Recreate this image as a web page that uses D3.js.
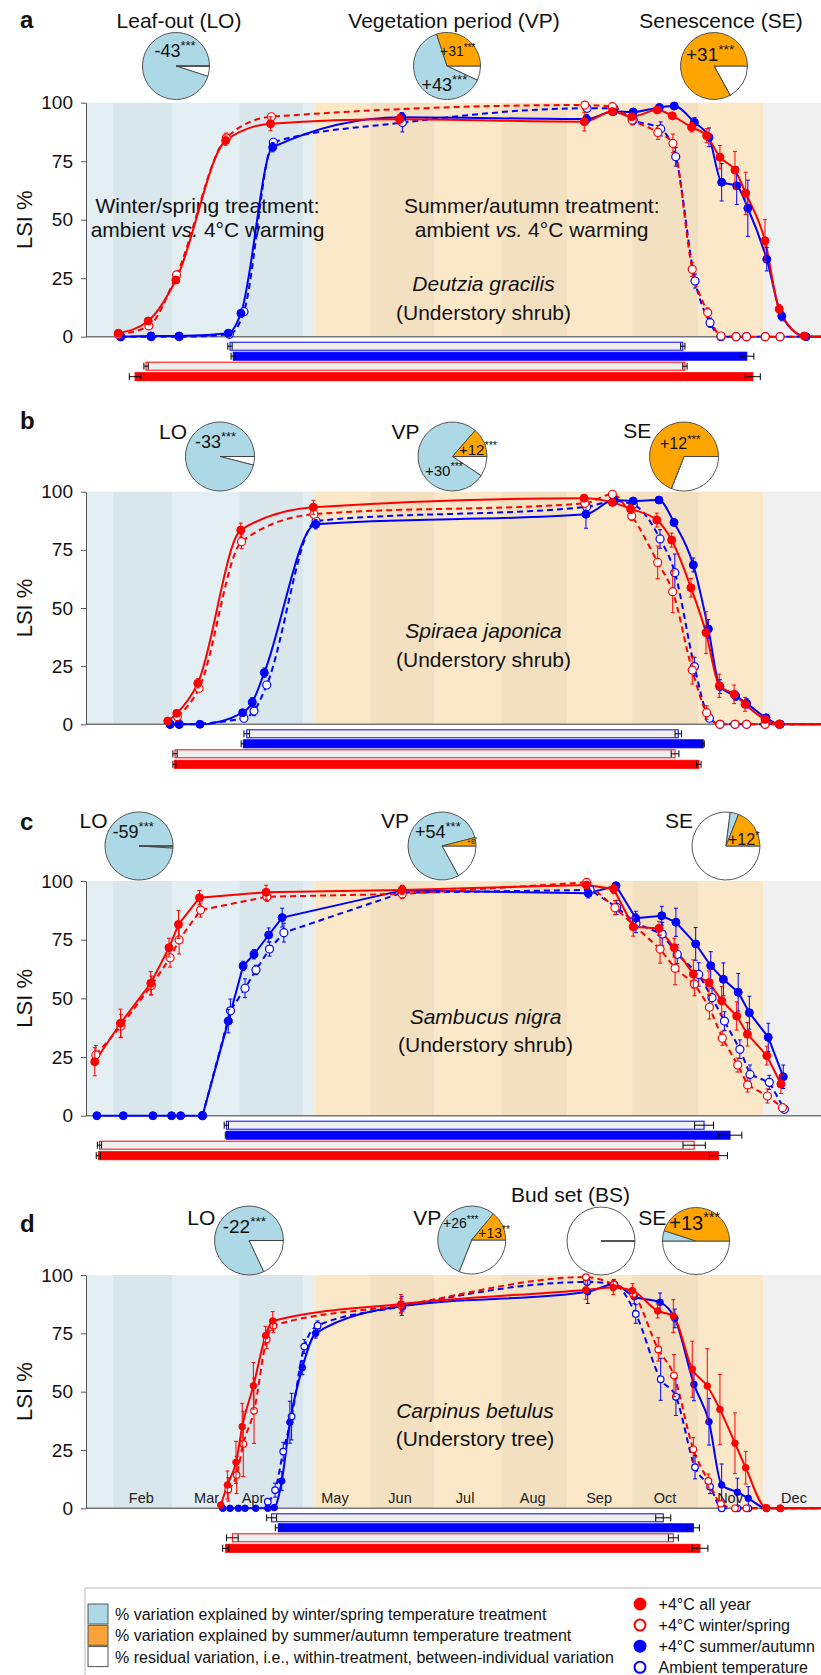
<!DOCTYPE html>
<html>
<head>
<meta charset="utf-8">
<script src="https://cdn.jsdelivr.net/npm/d3@7"></script>
<style>
body { margin: 0; background: #fff; }
svg text { font-family: "Liberation Sans", Arial, Helvetica, sans-serif; fill: #111; }
</style>
</head>
<body>
<svg id="chart" width="821" height="1675"></svg>
<script>
// values: [day of year, LSI %, error]
const aAllYear = [[33.7,1.5,1],[47.6,6.7,1],[60.5,24.2,1],[83.7,83.8,2],[104.6,91,3],[164.6,92.9,2],[250.7,91.9,4],[263.8,96.2,1],[272.8,94,1],[284.7,96.9,1],[291.7,94.4,1],[300.7,89.5,2],[307.7,85.9,3],[313.9,76.7,5],[320.9,71.2,8],[325.9,61.3,9],[334.9,41,9],[341.5,11.8,2],[353.2,0.3,0]];
const aWinter = [[33.7,1,0],[47.9,4.6,1],[60.8,26.4,1],[84,85,2],[105,94,1],[251,99,1],[263.8,98.3,1],[273,92.6,2],[285,87.3,3],[292,82.6,4],[301,28.8,3],[308.2,10.3,2],[314.4,0.3,0],[321.4,0,0],[326.3,0,0],[335,0,0],[341.9,0,0]];
const aSummer = [[34.8,0,0],[48.9,0.3,0],[62,0.3,0],[84.9,1.5,1],[90.8,10,1],[105.6,81,2],[165.7,93.8,2],[251.8,93,2],[264.2,96.2,1],[273.5,96,1],[285.7,98,1],[292.6,98.6,1],[302,91.6,2],[308.8,85.2,4],[314.7,66,8],[321.7,64.5,8],[326.9,54.9,12],[335.7,33.1,5],[342.7,8.8,2],[354,0,0]];
const aAmbient = [[34.8,0,0],[49,0,0],[62,0,0],[85.4,1,1],[92.2,10.7,1],[105.9,83.1,1],[166,91.5,4],[252,97.6,1],[264.5,97.6,1],[273.5,92.6,2],[286.3,88.8,3],[293.3,76.9,4],[302.3,23.8,3],[309.3,6,2],[314.4,0,0],[321.4,0,0],[326.3,0,0],[335,0,0],[341.9,0,0]];

const bAllYear = [[56.7,1.4,1],[60.9,4.7,1],[70.7,17.6,2],[90.7,83.5,3],[124.5,93.3,3],[250.6,97.2,1],[263.8,95.4,1],[272.3,92.6,2],[284.5,87.8,3],[291.4,79.2,3],[300.4,58.7,4],[307.4,39.4,9],[313.6,16.6,5],[320.5,12.9,4],[325.6,8.6,3],[334.9,2.1,1],[341.6,0.1,0]];
const bWinter = [[61.2,3.3,1],[71.3,15.5,1],[91.1,78.5,3],[124.8,90.3,1],[251,95,1],[263.8,98.9,1],[272.8,89.6,2],[284.9,69.6,7],[291.9,57,9],[301,23.3,6],[307.7,5,3],[313.9,0,0],[320.9,0,0],[326.3,0,0],[334.9,0,0],[341.6,0,0]];
const bSummer = [[57.8,0,0],[62,0,0],[71.7,0,0],[91.6,5,1],[96.1,9.5,2],[101.7,22.2,2],[125.6,86,2],[251.5,90.3,6],[264.5,96.4,1],[273.5,96,1],[285.5,96.4,1],[292.5,86.8,1],[301.5,68.5,3],[308.5,41,4],[313.9,16.2,3],[321.2,12.2,2],[326.3,9,2],[335.3,2.8,1],[342,0,0]];
const bAmbient = [[57.8,0,0],[62,0,0],[92.2,2.6,1],[96.9,5.7,2],[102.8,16.9,1],[125.8,87.4,1],[251.8,93.5,1],[264.5,96,1],[273.5,94.5,1],[286,79.7,4],[292.9,65.2,8],[302,24.8,4],[309,2.6,1],[313.9,0,0],[320.9,0,0],[326.3,0,0],[334.9,0,0],[341.6,0,0]];

const cAllYear = [[22.7,23,6],[34.7,39.4,6],[48.8,56.4,5],[57.3,71.6,4],[61.7,81.5,6],[71.5,92.9,3],[102.5,95.2,3],[165.9,96.2,2],[251.7,98.3,1],[264.4,96.6,2],[273.5,80.5,4],[285.5,79.8,3],[292.6,71.6,4],[301.5,60.4,6],[308.8,56.7,5],[314.7,49,6],[321.7,42.5,6],[326.7,34.7,5],[335.7,25.6,4],[342.3,13.5,4]];
const cWinter = [[23.2,25.9,4],[34.9,38.2,5],[49.1,55.5,4],[57.8,67.3,4],[62,74.9,6],[72,87.6,3],[102.9,93.3,2],[165.9,94.5,2],[251.8,99.4,1],[265,88.6,3],[286,71,6],[293,62.8,7],[302,56.1,5],[309,46.2,5],[315,33,3],[322.2,21.6,3],[326.8,13.1,3],[336,8.4,3],[343,3.4,1]];
const cSummer = [[23.7,0,0],[36,0,0],[49.8,0,0],[58.5,0,0],[62.7,0,0],[72.9,0,0],[84.9,40.3,5],[91.8,63.8,2],[96.9,68.8,2],[103.7,77,3],[110,84.4,4],[165.9,96,2],[252.6,94.8,2],[265.5,98,1],[274.7,84.1,3],[286.8,85.2,4],[293.4,82.4,6],[302.6,73.2,7],[309.6,63.9,6],[315.5,58.1,7],[322.4,52.6,8],[327.6,43.9,7],[336.4,33.4,6],[343.4,16.6,5]];
const cAmbient = [[72.9,0,0],[85.9,44.7,5],[92.7,54.3,4],[97.8,62.1,2],[104.1,71,3],[110.8,78,4],[165.9,95,2],[253.4,96.2,1],[265.8,88.8,3],[274.8,82,4],[287,77.4,5],[294,68.8,4],[304,60.2,5],[310.2,50.3,4],[316,40.3,4],[323.2,28.3,4],[327.9,17.6,4],[336.9,14.2,3],[343.9,2.7,1]];

const dAllYear = [[81.4,1.4,1],[84.5,10,6],[88.5,19.7,9],[91.4,35,10],[96.6,52.5,10],[102.3,74,4],[105.6,80.3,4],[165.3,87.6,4],[251.4,93.6,4],[264.2,94.6,3],[273.1,93.3,3],[284.9,84.6,3],[292.2,82.4,7],[301,59.6,12],[308,52.4,16],[313.9,42.4,15],[320.9,27.9,13],[325.9,17.4,7],[335.4,0.3,0],[342,0,0]];
const dWinter = [[84.9,8.1,5],[88.8,14.3,8],[91.9,27.6,14],[96.9,41.8,14],[102.8,72.4,4],[105.9,78.3,3],[165.3,87,3],[251.5,99.1,1],[264.5,96,1],[273.5,91.9,2],[285.2,68.1,5],[292.5,56.9,9],[301.5,25.3,5],[308.5,11.7,3],[314.3,2,1],[320.9,0,0],[326.2,0,0],[335.6,0,0],[342,0,0]];
const dSummer = [[82.3,0,0],[85.7,0,0],[89.6,0,0],[92.7,0,0],[97.7,0,0],[103.3,0,0],[106.3,0.3,0],[109.8,11.7,4],[113.6,36.9,9],[119.4,60.3,3],[125.6,75,2],[165.7,86.7,4],[252.3,92.8,5],[264.5,96,2],[274,90.7,3],[286,88.3,4],[292.9,81.4,4],[301.8,53.1,7],[308.8,37.1,10],[314.7,10,9],[322,6.9,6],[327.1,4.3,5],[335.6,0,0],[342,0,0]];
const dAmbient = [[103.3,2.8,1],[106.7,7.8,3],[110.5,24.3,4],[114.4,39.3,10],[120.3,69.3,3],[126.5,78.3,2],[166,86.5,2],[252,97,1],[264.7,96,1],[274.7,83.3,4],[286.3,55.3,9],[293.4,47.8,8],[302.3,17.6,5],[309.3,9.3,3],[314.7,0,0],[322,0,0],[327.1,0,0]];

// where the fitted curves run out at the right edge: [day, LSI %]
const fitTail = [361, 0];

// vegetation-period bars: [start day, start err, end day, end err]
// rows: ambient, +4 summer/autumn, +4 winter/spring, +4 all year
const aBars = [[85.7,1,296.6,1],[87.2,1,326.4,3.3],[46.6,1,297.6,1],[41.5,2.7,329.2,3.5]];
const bBars = [[93.5,1.3,294.5,1.5],[91.9,1,306.1,0.5],[60.1,1,293,1.8],[59.8,0.7,304.1,1]];
const cBars = [[84,1,306.5,4.4],[84,0.5,318.6,5.5],[24.9,1,301.9,5.2],[24.4,1,313.2,4.2]];
const dBars = [[105.1,2.3,287.5,3.5],[108.2,1.4,301.5,2.8],[86.8,2.7,292.2,2.3],[83.7,1.4,304.6,3.7]];

// % variation explained: [winter/spring, summer/autumn, residual]
const aPies = [[95,0,5],[63,30,7],[0,83,17]];
const bPies = [[96,0,4],[77,13.6,9.4],[0,69,31]];
const cPies = [[99,0,1],[79,4,17],[4,19,77]];
const dPies = [[82,0,18],[55,14,31],[0,0,100],[5,45,50]];

const aPieText = [["-43***"],["+31***","+43***"],["+31***"]];
const bPieText = [["-33***"],["+12***","+30***"],["+12***"]];
const cPieText = [["-59***"],["+54***","+8*"],["+12*"]];
const dPieText = [["-22***"],["+26***","+13**"],[],["+13***"]];

const yTicks = [0, 25, 50, 75, 100];
const monthNames = ["Feb","Mar","Apr","May","Jun","Jul","Aug","Sep","Oct","Nov","Dec"];
const monthLabelDays = [44.4,74.8,96.4,134.6,164.9,195.2,226.7,257.6,288.3,318.6,348.4];

const legendShares = ["% variation explained by winter/spring temperature treatment",
  "% variation explained by summer/autumn temperature treatment",
  "% residual variation, i.e., within-treatment, between-individual variation"];
const legendSeries = ["+4°C all year", "+4°C winter/spring", "+4°C summer/autumn", "Ambient temperature"];

// ---------------------------------------------------------------
const svg = d3.select("#chart");
const base = new Date(2015, 0, 1);
const toDate = d => new Date(base.getTime() + d * 864e5);
const x = d3.scaleTime().domain([base, toDate(365)]).range([46, 46 + 2.147 * 365]);
const plotLeft = 86, plotRight = 821;

const RED = "#ff0000", BLUE = "#0000ff";
const pieColors = ["#add8e6", "#ffa500", "#ffffff"];
const styles = [
  {color: BLUE, open: true, dash: "6,4"},   // ambient
  {color: BLUE, open: false, dash: null},   // summer/autumn
  {color: RED, open: true, dash: "6,4"},    // winter/spring
  {color: RED, open: false, dash: null}     // all year
];
const seasons = [
  {from: toDate(0), to: toDate(125), light: "#e3eff3", dark: "#d9e7ec"},
  {from: toDate(125), to: new Date(2015, 11, 1), light: "#fbe8c9", dark: "#f3e0c1"},
  {from: new Date(2015, 11, 1), to: toDate(366), light: "#f0f0f0", dark: "#f0f0f0"}
];
const barOffsets = [9.5, 19.5, 29.5, 40];

const panels = [
  {letter: "a", top: 102.7, bottom: 336.7, letterY: 28, series: [aAmbient, aSummer, aWinter, aAllYear],
   bars: aBars, curve: d3.curveMonotoneX, r: 4, tail: true,
   pies: [{cx: 176, cy: 66, r: 33.5, v: aPies[0], t: aPieText[0], pos: [[154.5, 56.5, 18]]},
          {cx: 447, cy: 66, r: 33.5, v: aPies[1], t: aPieText[1], pos: [[440, 56, 14], [421.5, 91, 18]]},
          {cx: 714, cy: 66, r: 33.5, v: aPies[2], t: aPieText[2], pos: [[686, 61, 19]]}],
   titles: [["Leaf-out (LO)", 179, 28, "middle"], ["Vegetation period (VP)", 454, 28, "middle"], ["Senescence (SE)", 721, 28, "middle"]],
   species: ["Deutzia gracilis", "(Understory shrub)", 483.5, 291, 320]},
  {letter: "b", top: 491.7, bottom: 724.3, letterY: 429, series: [bAmbient, bSummer, bWinter, bAllYear],
   bars: bBars, curve: d3.curveMonotoneX, r: 4, tail: true,
   pies: [{cx: 220, cy: 456.5, r: 34.5, v: bPies[0], t: bPieText[0], pos: [[195, 448, 18]]},
          {cx: 452.5, cy: 456.5, r: 34.5, v: bPies[1], t: bPieText[1], pos: [[459, 455, 15], [425, 476, 15]]},
          {cx: 684, cy: 456.5, r: 34.5, v: bPies[2], t: bPieText[2], pos: [[660, 449, 16]]}],
   titles: [["LO", 159, 439, "start"], ["VP", 391.6, 439, "start"], ["SE", 623.3, 438, "start"]],
   species: ["Spiraea japonica", "(Understory shrub)", 483.5, 638, 667]},
  {letter: "c", top: 881, bottom: 1115.7, letterY: 830, series: [cAmbient, cSummer, cWinter, cAllYear],
   bars: cBars, curve: d3.curveLinear, r: 4, tail: false,
   pies: [{cx: 139, cy: 846, r: 34, v: cPies[0], t: cPieText[0], pos: [[112.6, 838, 18]]},
          {cx: 442, cy: 846, r: 34, v: cPies[1], t: cPieText[1], pos: [[415, 838.3, 18], [467, 844, 7]]},
          {cx: 726, cy: 846, r: 34, v: cPies[2], t: cPieText[2], pos: [[728, 845, 16]]}],
   titles: [["LO", 79.6, 828, "start"], ["VP", 381, 828, "start"], ["SE", 665, 828, "start"]],
   species: ["Sambucus nigra", "(Understory shrub)", 485.5, 1024, 1052]},
  {letter: "d", top: 1275, bottom: 1508.3, letterY: 1231.7, series: [dAmbient, dSummer, dWinter, dAllYear],
   bars: dBars, curve: d3.curveMonotoneX, r: 3.3, months: true, tail: true,
   pies: [{cx: 249, cy: 1240.5, r: 34.5, v: dPies[0], t: dPieText[0], pos: [[222.7, 1233.3, 19]]},
          {cx: 471.7, cy: 1240, r: 34, v: dPies[1], t: dPieText[1], pos: [[443, 1228.3, 14], [478.3, 1238.3, 14]]},
          {cx: 601, cy: 1241, r: 34, v: dPies[2], t: dPieText[2], pos: []},
          {cx: 696, cy: 1241, r: 33.5, v: dPies[3], t: dPieText[3], pos: [[669.3, 1230, 20]]}],
   titles: [["LO", 187.3, 1225, "start"], ["VP", 413.3, 1225, "start"], ["Bud set (BS)", 570.5, 1201.7, "middle"], ["SE", 638.3, 1225, "start"]],
   species: ["Carpinus betulus", "(Understory tree)", 475, 1418, 1446]}
];

function drawPanel(p) {
  const y = d3.scaleLinear().domain([0, 100]).range([p.bottom, p.top]);
  const g = svg.append("g").attr("class", "panel-" + p.letter);

  // month / season shading
  const bg = g.append("g");
  d3.range(12).forEach(m => {
    const ms = new Date(2015, m, 1), me = new Date(2015, m + 1, 1);
    seasons.forEach(s => {
      const a = Math.max(x(ms), x(s.from), plotLeft);
      const b = Math.min(x(me), x(s.to), plotRight);
      if (b > a) {
        bg.append("rect").attr("x", a).attr("y", p.top).attr("width", b - a)
          .attr("height", p.bottom - p.top).attr("fill", m % 2 ? s.dark : s.light);
      }
    });
  });

  if (p.months) {
    g.selectAll("text.month").data(monthNames).enter().append("text")
      .attr("class", "month")
      .attr("x", (d, i) => x(toDate(monthLabelDays[i])))
      .attr("y", p.bottom - 5)
      .attr("text-anchor", "middle")
      .style("font-size", "14.5px")
      .style("fill", "#222")
      .text(d => d);
  }

  // species name
  const sp = p.species;
  g.append("text").attr("x", sp[2]).attr("y", sp[3]).attr("text-anchor", "middle")
    .style("font-size", "21px").style("font-style", "italic").text(sp[0]);
  g.append("text").attr("x", sp[2]).attr("y", sp[4]).attr("text-anchor", "middle")
    .style("font-size", "21px").text(sp[1]);

  if (p.letter === "a") {
    [[207.5, "Winter/spring treatment:"], [531.7, "Summer/autumn treatment:"]].forEach(t => {
      g.append("text").attr("x", t[0]).attr("y", 213.3).attr("text-anchor", "middle")
        .style("font-size", "21px").text(t[1]);
      const l2 = g.append("text").attr("x", t[0]).attr("y", 236.7).attr("text-anchor", "middle")
        .style("font-size", "21px");
      l2.append("tspan").text("ambient ");
      l2.append("tspan").style("font-style", "italic").text("vs.");
      l2.append("tspan").text(" 4°C warming");
    });
  }

  // x baseline
  g.append("line").attr("x1", plotLeft).attr("x2", plotRight)
    .attr("y1", y(0)).attr("y2", y(0)).attr("stroke", "#777").attr("stroke-width", 1.5);

  // y axis
  const ax = g.append("g").attr("transform", `translate(${plotLeft},0)`)
    .call(d3.axisLeft(y).tickValues(yTicks).tickSize(5).tickSizeOuter(0).tickPadding(8));
  ax.select(".domain").attr("stroke", "#555");
  ax.selectAll(".tick line").attr("stroke", "#555");
  ax.selectAll(".tick text").style("font-size", "19px").style("font-family", '"Liberation Sans", Arial, sans-serif').attr("fill", "#111");

  g.append("text").attr("transform", `translate(31.5,${(p.top + p.bottom) / 2}) rotate(-90)`)
    .attr("text-anchor", "middle").style("font-size", "22px").text("LSI %");

  // lines (fitted curves run on to the right edge)
  const line = d3.line().x(d => x(toDate(d[0]))).y(d => y(d[1])).curve(p.curve);
  p.series.forEach((s, i) => {
    const st = styles[i];
    const pts = p.tail ? s.concat([fitTail]) : s;
    g.append("path").datum(pts).attr("d", line).attr("fill", "none")
      .attr("stroke", st.color).attr("stroke-width", 2)
      .attr("stroke-dasharray", st.dash);
  });

  // error bars + markers
  p.series.forEach((s, i) => {
    const st = styles[i];
    const eg = g.append("g").attr("stroke", st.color).attr("stroke-width", 1);
    s.filter(d => d[2] > 0).forEach(d => {
      const cx = x(toDate(d[0]));
      eg.append("line").attr("x1", cx).attr("x2", cx).attr("y1", y(d[1] - d[2])).attr("y2", y(d[1] + d[2]));
      eg.append("line").attr("x1", cx - 2).attr("x2", cx + 2).attr("y1", y(d[1] - d[2])).attr("y2", y(d[1] - d[2]));
      eg.append("line").attr("x1", cx - 2).attr("x2", cx + 2).attr("y1", y(d[1] + d[2])).attr("y2", y(d[1] + d[2]));
    });
    g.append("g").selectAll("circle").data(s).enter().append("circle")
      .attr("cx", d => x(toDate(d[0]))).attr("cy", d => y(d[1]))
      .attr("r", p.r)
      .attr("fill", st.open ? "#fff" : st.color)
      .attr("stroke", st.color).attr("stroke-width", st.open ? 1.2 : 1);
  });

  // vegetation period bars
  p.bars.forEach((b, i) => {
    const st = styles[i];
    const cy = p.bottom + barOffsets[i];
    const x0 = x(toDate(b[0])), x1 = x(toDate(b[2]));
    g.append("rect").attr("x", x0).attr("y", cy - 4).attr("width", x1 - x0).attr("height", 8)
      .attr("fill", st.open ? "#efefef" : st.color)
      .attr("stroke", st.color).attr("stroke-width", 1);
    [[b[0], b[1]], [b[2], b[3]]].forEach(e => {
      const a = x(toDate(e[0] - e[1])), c = x(toDate(e[0] + e[1]));
      const eg = g.append("g").attr("stroke", "#000").attr("stroke-width", 1);
      eg.append("line").attr("x1", a).attr("x2", c).attr("y1", cy).attr("y2", cy);
      eg.append("line").attr("x1", a).attr("x2", a).attr("y1", cy - 3.5).attr("y2", cy + 3.5);
      eg.append("line").attr("x1", c).attr("x2", c).attr("y1", cy - 3.5).attr("y2", cy + 3.5);
    });
  });

  // pies: clockwise from 3 o'clock -> residual, winter/spring, summer/autumn
  const pie = d3.pie().sort(null).value(d => d.v)
    .startAngle(Math.PI / 2).endAngle(Math.PI / 2 + 2 * Math.PI);
  p.pies.forEach(pc => {
    const arc = d3.arc().innerRadius(0).outerRadius(pc.r);
    const parts = [{v: pc.v[2], c: pieColors[2]}, {v: pc.v[0], c: pieColors[0]}, {v: pc.v[1], c: pieColors[1]}];
    const pg = g.append("g").attr("transform", `translate(${pc.cx},${pc.cy})`);
    pg.selectAll("path").data(pie(parts)).enter().append("path")
      .attr("d", arc).attr("fill", d => d.data.c)
      .attr("stroke", "#444").attr("stroke-width", 0.9);
    pc.t.forEach((t, k) => {
      const [tx, ty, fs] = pc.pos[k];
      const m = t.match(/^([^*]+)(\**)$/);
      const tt = g.append("text").attr("x", tx).attr("y", ty).style("font-size", fs + "px");
      tt.append("tspan").text(m[1]);
      tt.append("tspan").attr("dy", -fs * 0.38).style("font-size", (fs * 0.72) + "px").text(m[2]);
    });
  });

  p.titles.forEach(t => {
    g.append("text").attr("x", t[1]).attr("y", t[2]).attr("text-anchor", t[3])
      .style("font-size", "21px").text(t[0]);
  });

  g.append("text").attr("x", 20).attr("y", p.letterY)
    .style("font-size", "24px").style("font-weight", "bold").text(p.letter);
}

panels.forEach(drawPanel);

// legend
const lg = svg.append("g");
lg.append("line").attr("x1", 85).attr("x2", 821).attr("y1", 1588).attr("y2", 1588).attr("stroke", "#bbb");
lg.append("line").attr("x1", 85).attr("x2", 85).attr("y1", 1588).attr("y2", 1675).attr("stroke", "#bbb");
const swatchFill = ["#add8e6", "#f8a33a", "#ffffff"];
legendShares.forEach((t, i) => {
  const cy = 1614 + i * 21.3;
  lg.append("rect").attr("x", 88).attr("y", cy - 10).attr("width", 20).attr("height", 20)
    .attr("fill", swatchFill[i]).attr("stroke", "#555").attr("stroke-width", 1);
  lg.append("text").attr("x", 115).attr("y", cy + 6).style("font-size", "16px").text(t);
});
const legendStyle = [styles[3], styles[2], styles[1], styles[0]];
legendSeries.forEach((t, i) => {
  const cy = 1604 + i * 21.1;
  const st = legendStyle[i];
  lg.append("circle").attr("cx", 640).attr("cy", cy).attr("r", 5.5)
    .attr("fill", st.open ? "#fff" : st.color).attr("stroke", st.color).attr("stroke-width", 2);
  lg.append("text").attr("x", 658.6).attr("y", cy + 6).style("font-size", "16px").text(t);
});
</script>
</body>
</html>
